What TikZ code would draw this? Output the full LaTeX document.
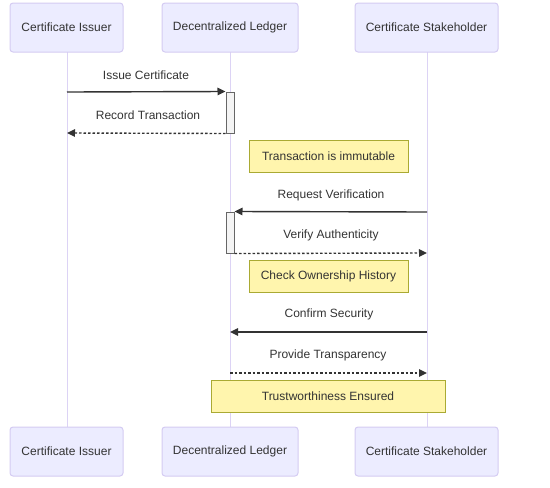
\documentclass[tikz,border=0pt]{standalone}
\usepackage{fontspec}
\setmainfont{Liberation Sans}
\usetikzlibrary{arrows.meta}
\definecolor{actfill}{HTML}{ECECFF}
\definecolor{actline}{HTML}{D4CBF2}
\definecolor{lifeline}{HTML}{DCD3F5}
\definecolor{txt}{HTML}{333333}
\definecolor{notefill}{HTML}{FFF5AD}
\definecolor{noteline}{HTML}{AAAA33}
\definecolor{actvfill}{HTML}{F4F4F4}
\definecolor{actvline}{HTML}{666666}
\begin{document}
\begin{tikzpicture}[x=1pt,y=-1pt,
  font=\fontsize{12}{14}\selectfont, text=txt,
  actor/.style={draw=actline, fill=actfill, rounded corners=3pt, line width=1pt, minimum height=49pt, inner sep=0pt},
  life/.style={draw=lifeline, line width=1pt},
  note/.style={draw=noteline, fill=notefill, line width=1pt, minimum height=32pt, inner sep=0pt},
  actv/.style={draw=actvline, fill=actvfill, line width=1pt, minimum width=8pt, minimum height=41pt, inner sep=0pt},
  msg/.style={draw=txt, line width=1.4pt, -{Triangle[length=8pt,width=7.5pt]}},
  reply/.style={msg, dash pattern=on 2.5pt off 2pt},
  lbl/.style={inner sep=0pt}]
\useasboundingbox (0,0) rectangle (550,488);
% lifelines
\coordinate (i0) at (67,52); \coordinate (i1) at (67,427);
\coordinate (l0) at (230,52); \coordinate (l1) at (230,427);
\coordinate (s0) at (427,52); \coordinate (s1) at (427,427);
\draw[life] (i0) -- (i1);
\draw[life] (l0) -- (l1);
\draw[life] (s0) -- (s1);
% actors
\node[actor, minimum width=113pt] (issT) at (66.5,27.5) {Certificate Issuer};
\node[actor, minimum width=136pt] (ledT) at (230,27.5) {Decentralized Ledger};
\node[actor, minimum width=143pt] (stkT) at (426.5,27.5) {Certificate Stakeholder};
\node[actor, minimum width=113pt] (issB) at (66.5,451.5) {Certificate Issuer};
\node[actor, minimum width=136pt] (ledB) at (230,451.5) {Decentralized Ledger};
\node[actor, minimum width=143pt] (stkB) at (426.5,451.5) {Certificate Stakeholder};
% activations
\node[actv] (a1) at (230,112.5) {};
\node[actv] (a2) at (230,232.5) {};
% message endpoints
\coordinate (m1) at (67,92);
\coordinate (m2) at (67,133);
\coordinate (m3) at (427,212);
\coordinate (m4) at (427,253);
\coordinate (m5s) at (427,332);
\coordinate (m5e) at (230,332);
\coordinate (m6s) at (230,373);
\coordinate (m6e) at (427,373);
% messages
\node[lbl] (t1) at (146,75) {Issue Certificate};
\draw[msg] (m1) -- (a1.north west);
\node[lbl] (t2) at (148,115) {Record Transaction};
\draw[reply] (a1.south west) -- (m2);
\node[note, minimum width=159pt] (n1) at (328.5,156) {Transaction is immutable};
\node[lbl] (t3) at (331,195) {Request Verification};
\draw[msg] (m3) -- (a2.north east);
\node[lbl] (t4) at (331,235) {Verify Authenticity};
\draw[reply] (a2.south east) -- (m4);
\node[note, minimum width=159pt] (n2) at (328.5,276) {Check Ownership History};
\node[lbl] (t5) at (329,314) {Confirm Security};
\draw[msg] (m5s) -- (m5e);
\node[lbl] (t6) at (328,355) {Provide Transparency};
\draw[reply] (m6s) -- (m6e);
\node[note, minimum width=234pt] (n3) at (328,396) {Trustworthiness Ensured};
\end{tikzpicture}
\end{document}
